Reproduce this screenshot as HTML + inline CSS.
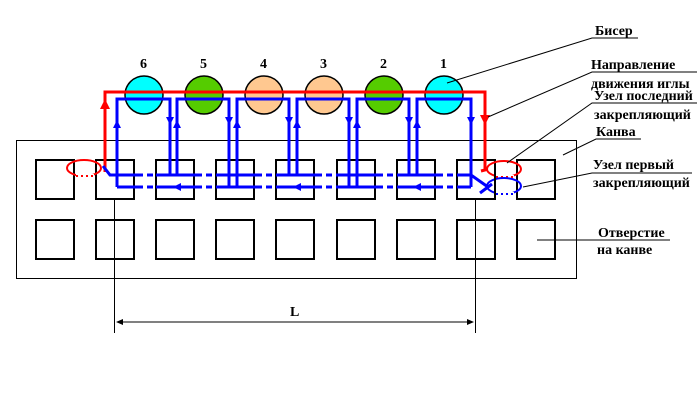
<!DOCTYPE html>
<html><head><meta charset="utf-8"><style>
html,body{margin:0;padding:0;background:#fff;}
svg{display:block;}
text{font-family:"Liberation Serif",serif;font-weight:bold;font-size:14px;fill:#000;}
</style></head><body>
<svg width="700" height="400" viewBox="0 0 700 400" xmlns="http://www.w3.org/2000/svg">
<defs>
<marker id="ab" markerWidth="8" markerHeight="8" refX="4" refY="4" orient="auto" markerUnits="userSpaceOnUse"><path d="M0,0 L8,4 L0,8 z" fill="#0000ff"/></marker>
<marker id="ar" markerWidth="10" markerHeight="10" refX="5" refY="5" orient="auto" markerUnits="userSpaceOnUse"><path d="M0,0 L10,5 L0,10 z" fill="#ff0000"/></marker>
</defs>
<rect x="16.5" y="140.5" width="560" height="138" fill="none" stroke="#000" stroke-width="1"/>
<g fill="none" stroke="#000" stroke-width="2">
<rect x="36" y="160" width="38" height="39"/><rect x="96" y="160" width="38" height="39"/><rect x="156" y="160" width="38" height="39"/><rect x="216" y="160" width="38" height="39"/><rect x="276" y="160" width="38" height="39"/><rect x="337" y="160" width="38" height="39"/><rect x="397" y="160" width="38" height="39"/><rect x="457" y="160" width="38" height="39"/><rect x="517" y="160" width="38" height="39"/>
<rect x="36" y="220" width="38" height="39"/><rect x="96" y="220" width="38" height="39"/><rect x="156" y="220" width="38" height="39"/><rect x="216" y="220" width="38" height="39"/><rect x="276" y="220" width="38" height="39"/><rect x="337" y="220" width="38" height="39"/><rect x="397" y="220" width="38" height="39"/><rect x="457" y="220" width="38" height="39"/><rect x="517" y="220" width="38" height="39"/>
</g>
<g stroke="#000" stroke-width="1.5">
<circle cx="144" cy="95" r="19" fill="#00ffff"/>
<circle cx="204" cy="95" r="19" fill="#55cc00"/>
<circle cx="264" cy="95" r="19" fill="#ffc890"/>
<circle cx="324" cy="95" r="19" fill="#ffc890"/>
<circle cx="384" cy="95" r="19" fill="#55cc00"/>
<circle cx="444" cy="95" r="19" fill="#00ffff"/>
</g>
<text x="140" y="68">6</text><text x="200" y="68">5</text><text x="260" y="68">4</text><text x="320" y="68">3</text><text x="380" y="68">2</text><text x="440" y="68">1</text>
<!-- knots (ellipses) -->
<ellipse cx="84" cy="168" rx="17" ry="8" fill="none" stroke="#ff0000" stroke-width="2"/>
<line x1="76" y1="176" x2="94" y2="176" stroke="#fff" stroke-width="4"/>
<line x1="76" y1="176" x2="94" y2="176" stroke="#ff0000" stroke-width="2" stroke-dasharray="2,3"/>
<ellipse cx="504" cy="169" rx="17" ry="8" fill="none" stroke="#ff0000" stroke-width="2"/>
<line x1="496" y1="177" x2="514" y2="177" stroke="#fff" stroke-width="4"/>
<line x1="496" y1="177" x2="514" y2="177" stroke="#ff0000" stroke-width="2" stroke-dasharray="2,3"/>
<ellipse cx="504" cy="186" rx="17" ry="8" fill="none" stroke="#0000ff" stroke-width="2"/>
<line x1="496" y1="194" x2="514" y2="194" stroke="#fff" stroke-width="4"/>
<line x1="496" y1="194" x2="514" y2="194" stroke="#0000ff" stroke-width="2" stroke-dasharray="2,3"/>
<rect x="494" y="170" width="2" height="30" fill="#000"/>
<!-- red thread -->
<path d="M105,172 L105,92 L485,92 L485,170 L481,171" fill="none" stroke="#ff0000" stroke-width="3"/>
<path d="M105,112 L105,104" stroke="#ff0000" stroke-width="3" marker-end="url(#ar)"/>
<path d="M485,112 L485,120" stroke="#ff0000" stroke-width="3" marker-end="url(#ar)"/>
<!-- blue thread -->
<g fill="none" stroke="#0000ff" stroke-width="3">
<path d="M117,187 L117,99 L170,99 L170,175"/>
<path d="M177,175 L177,99 L229,99 L229,187"/>
<path d="M237,187 L237,99 L289,99 L289,175"/>
<path d="M297,175 L297,99 L349,99 L349,187"/>
<path d="M357,187 L357,99 L409,99 L409,175"/>
<path d="M417,175 L417,99 L471,99 L471,187"/>
<path d="M103,166 L110,175 L137,175"/>
<path d="M156,175 L196,175 M216,175 L256,175 M276,175 L316,175 M337,175 L377,175 M397,175 L437,175 M457,175 L471,175 L488,187"/>
<path d="M137,175 L156,175 M196,175 L216,175 M256,175 L276,175 M316,175 L337,175 M377,175 L397,175 M437,175 L457,175" stroke-dasharray="6,4"/>
<path d="M117,187 L137,187 M156,187 L196,187 M216,187 L256,187 M276,187 L316,187 M337,187 L377,187 M397,187 L437,187 M457,187 L471,187"/>
<path d="M137,187 L156,187 M196,187 L216,187 M256,187 L276,187 M316,187 L337,187 M377,187 L397,187 M437,187 L457,187" stroke-dasharray="6,4"/>
<path d="M480,193 L492,184"/>
</g>
<g stroke="#0000ff" stroke-width="3">
<path d="M117,135 L117,124" marker-end="url(#ab)"/><path d="M177,135 L177,124" marker-end="url(#ab)"/><path d="M237,135 L237,124" marker-end="url(#ab)"/><path d="M297,135 L297,124" marker-end="url(#ab)"/><path d="M357,135 L357,124" marker-end="url(#ab)"/><path d="M417,135 L417,124" marker-end="url(#ab)"/>
<path d="M170,110 L170,121" marker-end="url(#ab)"/><path d="M229,110 L229,121" marker-end="url(#ab)"/><path d="M289,110 L289,121" marker-end="url(#ab)"/><path d="M349,110 L349,121" marker-end="url(#ab)"/><path d="M409,110 L409,121" marker-end="url(#ab)"/><path d="M471,110 L471,121" marker-end="url(#ab)"/>
<path d="M186,187 L177,187" marker-end="url(#ab)"/><path d="M306,187 L297,187" marker-end="url(#ab)"/><path d="M426,187 L417,187" marker-end="url(#ab)"/>
</g>
<g stroke="#000" stroke-width="1">
<line x1="114.5" y1="199" x2="114.5" y2="333"/><line x1="475.5" y1="199" x2="475.5" y2="333"/>
<line x1="118" y1="322" x2="472" y2="322"/>
</g>
<path d="M116,322 L123,319 L123,325 z M474,322 L467,319 L467,325 z" fill="#000"/>
<text x="290" y="316">L</text>
<g stroke="#000" stroke-width="1" fill="none">
<path d="M447,83 L592,38 L638,38"/>
<path d="M488,117 L592,72 L697,72"/>
<path d="M507,163 L592,103 L697,103"/>
<path d="M563,155 L596,139 L641,139"/>
<path d="M523,187 L592,173 L692,173"/>
<path d="M537,240 L670,240"/>
</g>
<text x="595" y="35">Бисер</text>
<text x="591" y="69">Направление</text>
<text x="591" y="88">движения иглы</text>
<text x="594" y="100">Узел последний</text>
<text x="594" y="119">закрепляющий</text>
<text x="596" y="136">Канва</text>
<text x="593" y="169">Узел первый</text>
<text x="593" y="187">закрепляющий</text>
<text x="598" y="237">Отверстие</text>
<text x="597" y="254">на канве</text>
</svg>
</body></html>
